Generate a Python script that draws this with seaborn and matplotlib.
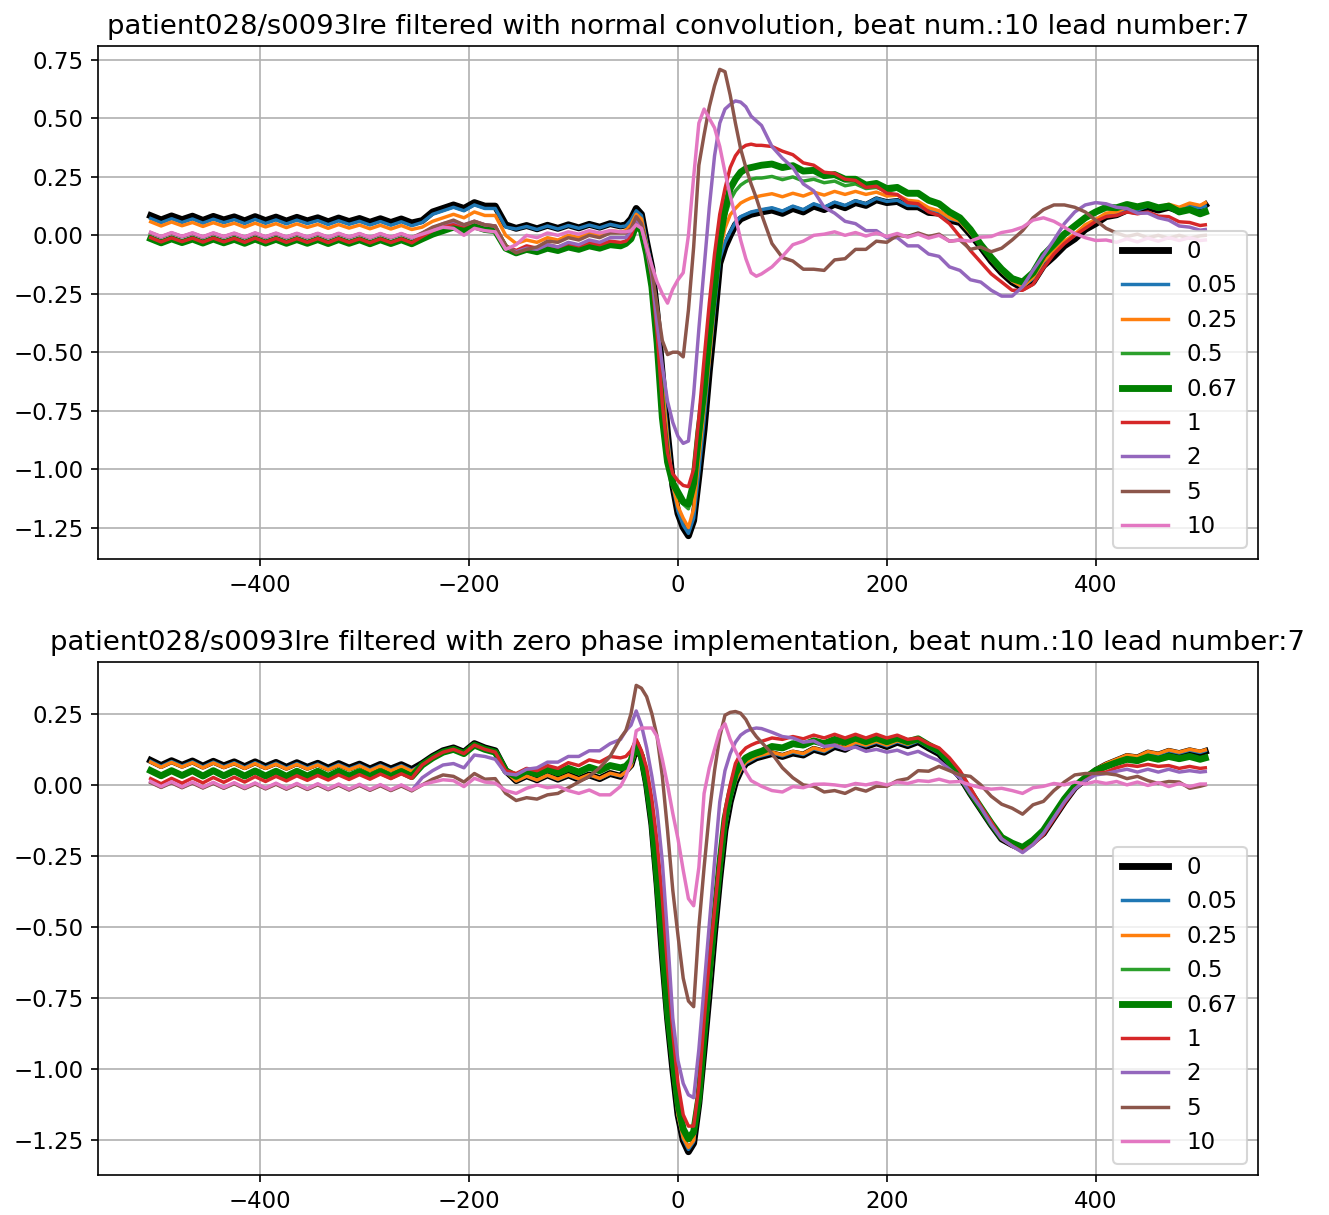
import numpy as np
import matplotlib
matplotlib.use("Agg")
import matplotlib.pyplot as plt
import seaborn as sns

plt.rcParams["font.size"] = 11

# %% sample positions (ms relative to R peak)
x = np.concatenate([np.arange(-505, -54, 10), np.arange(-50, 81, 5),
                    np.arange(90, 501, 10), [505]])

cutoffs = ["0", "0.05", "0.25", "0.5", "0.67", "1", "2", "5", "10"]

# %% top panel: normal convolution
top_0 = [0.084,0.066,0.083,0.067,0.082,0.064,0.081,0.066,0.079,0.062,0.080,0.063,0.078,0.061,0.077,0.062,0.075,0.058,0.074,0.059,0.072,0.056,0.071,0.055,0.070,0.053,
         0.063,0.100,0.115,0.130,0.115,0.140,0.125,0.125,0.045,0.030,0.042,0.028,0.043,0.030,0.045,0.032,0.047,0.035,0.050,0.040,
         0.045,0.070,0.115,0.090,-0.030,-0.140,-0.340,-0.600,-0.850,-1.070,-1.190,-1.250,-1.285,-1.220,-1.030,-0.830,-0.580,-0.360,-0.120,-0.050,0.000,0.045,0.070,0.080,0.090,0.095,0.100,
         0.108,0.094,0.115,0.100,0.125,0.110,0.133,0.118,0.140,0.128,0.152,0.140,0.145,0.122,0.122,0.098,0.095,0.065,0.055,0.005,-0.050,-0.110,
         -0.160,-0.200,-0.225,-0.200,-0.130,-0.090,-0.045,-0.015,0.025,0.050,0.080,0.088,0.108,0.102,0.120,0.108,0.120,0.105,0.122,0.115,0.130]
top_005 = [0.072,0.054,0.071,0.055,0.070,0.052,0.069,0.054,0.067,0.050,0.068,0.051,0.066,0.049,0.065,0.050,0.063,0.046,0.062,0.047,0.060,0.044,0.059,0.043,0.058,0.041,
           0.055,0.090,0.105,0.120,0.105,0.130,0.115,0.115,0.035,0.027,0.038,0.025,0.040,0.027,0.042,0.030,0.044,0.032,0.047,0.037,
           0.040,0.065,0.105,0.085,-0.030,-0.140,-0.350,-0.610,-0.860,-1.070,-1.180,-1.240,-1.275,-1.210,-1.010,-0.790,-0.540,-0.310,-0.100,-0.030,0.015,0.055,0.080,0.090,0.100,0.105,0.110,
           0.118,0.104,0.125,0.110,0.135,0.120,0.142,0.128,0.148,0.135,0.158,0.145,0.150,0.128,0.127,0.103,0.100,0.070,0.060,0.010,-0.045,-0.105,
           -0.155,-0.195,-0.220,-0.185,-0.115,-0.075,-0.030,0.000,0.040,0.062,0.090,0.095,0.115,0.108,0.125,0.112,0.123,0.108,0.125,0.118,0.125]
top_025 = [0.058,0.040,0.057,0.041,0.055,0.038,0.054,0.039,0.052,0.035,0.052,0.036,0.050,0.033,0.049,0.034,0.047,0.030,0.046,0.031,0.044,0.028,0.043,0.027,0.042,0.025,
           0.035,0.060,0.075,0.090,0.075,0.100,0.085,0.085,0.000,-0.035,-0.020,-0.030,-0.010,-0.020,0.000,-0.010,0.010,0.000,0.020,0.015,
           0.020,0.045,0.090,0.070,-0.040,-0.150,-0.370,-0.640,-0.880,-1.070,-1.160,-1.210,-1.250,-1.170,-0.950,-0.740,-0.530,-0.280,-0.070,0.030,0.088,0.115,0.138,0.150,0.160,0.165,0.170,
           0.178,0.165,0.180,0.168,0.185,0.172,0.188,0.175,0.188,0.175,0.185,0.168,0.172,0.150,0.145,0.118,0.105,0.075,0.060,0.010,-0.045,-0.105,
           -0.155,-0.195,-0.220,-0.180,-0.110,-0.070,-0.025,0.005,0.045,0.068,0.095,0.100,0.120,0.115,0.132,0.120,0.133,0.120,0.138,0.128,0.140]
top_05 = [-0.008,-0.026,-0.009,-0.025,-0.010,-0.027,-0.010,-0.026,-0.011,-0.028,-0.010,-0.027,-0.011,-0.028,-0.012,-0.028,-0.012,-0.029,-0.012,-0.028,-0.013,-0.030,-0.013,-0.029,-0.013,-0.030,
          -0.010,0.015,0.030,0.045,0.030,0.050,0.035,0.030,-0.050,-0.070,-0.055,-0.065,-0.050,-0.060,-0.045,-0.055,-0.040,-0.050,-0.035,-0.040,
          -0.030,-0.010,0.050,0.030,-0.070,-0.200,-0.440,-0.740,-0.950,-1.060,-1.120,-1.150,-1.170,-1.080,-0.900,-0.700,-0.460,-0.250,-0.050,0.080,0.150,0.190,0.215,0.230,0.240,0.245,0.245,
          0.252,0.238,0.250,0.232,0.240,0.225,0.232,0.212,0.220,0.200,0.205,0.188,0.198,0.175,0.175,0.145,0.130,0.100,0.075,0.025,-0.040,-0.100,
          -0.140,-0.180,-0.195,-0.160,-0.090,-0.045,0.000,0.035,0.070,0.095,0.115,0.115,0.128,0.120,0.130,0.118,0.125,0.110,0.115,0.100,0.110]
top_067 = [-0.014,-0.032,-0.015,-0.031,-0.016,-0.033,-0.016,-0.032,-0.017,-0.034,-0.016,-0.033,-0.017,-0.034,-0.018,-0.034,-0.018,-0.035,-0.018,-0.034,-0.019,-0.036,-0.019,-0.035,-0.019,-0.036,
           -0.015,0.005,0.020,0.035,0.020,0.040,0.025,0.020,-0.055,-0.075,-0.060,-0.070,-0.055,-0.065,-0.050,-0.060,-0.045,-0.055,-0.040,-0.045,
           -0.035,-0.015,0.045,0.020,-0.080,-0.220,-0.460,-0.780,-0.970,-1.060,-1.100,-1.140,-1.150,-1.060,-0.840,-0.660,-0.420,-0.220,-0.020,0.110,0.200,0.240,0.270,0.285,0.290,0.295,0.300,
           0.305,0.290,0.298,0.275,0.278,0.255,0.260,0.240,0.240,0.215,0.222,0.200,0.205,0.180,0.180,0.150,0.135,0.100,0.075,0.025,-0.040,-0.095,
           -0.145,-0.185,-0.200,-0.160,-0.085,-0.040,0.005,0.040,0.075,0.100,0.120,0.118,0.132,0.122,0.132,0.118,0.125,0.100,0.110,0.092,0.100]
top_1 = [-0.010,-0.028,-0.011,-0.027,-0.012,-0.029,-0.012,-0.028,-0.013,-0.030,-0.012,-0.029,-0.013,-0.030,-0.014,-0.030,-0.014,-0.031,-0.014,-0.030,-0.015,-0.032,-0.015,-0.031,-0.015,-0.032,
         -0.005,0.020,0.040,0.050,0.040,0.060,0.045,0.040,-0.045,-0.065,-0.045,-0.055,-0.040,-0.050,-0.035,-0.045,-0.030,-0.040,-0.025,-0.030,
         -0.025,0.000,0.060,0.040,-0.060,-0.180,-0.420,-0.720,-0.930,-1.020,-1.050,-1.070,-1.075,-1.000,-0.780,-0.530,-0.290,-0.080,0.090,0.200,0.290,0.340,0.370,0.385,0.390,0.385,0.385,
         0.380,0.360,0.345,0.310,0.300,0.270,0.265,0.240,0.235,0.205,0.210,0.180,0.175,0.140,0.135,0.100,0.085,0.050,-0.005,-0.065,-0.115,-0.165,
         -0.200,-0.235,-0.235,-0.210,-0.140,-0.080,-0.035,0.000,0.030,0.060,0.080,0.085,0.100,0.092,0.100,0.082,0.080,0.058,0.055,0.042,0.045]
top_2 = [0.010,-0.008,0.009,-0.007,0.008,-0.009,0.008,-0.008,0.007,-0.010,0.008,-0.009,0.007,-0.010,0.006,-0.010,0.006,-0.011,0.006,-0.010,0.005,-0.012,0.005,-0.011,0.005,-0.012,
         0.010,0.030,0.050,0.060,0.045,0.060,0.045,0.040,-0.050,-0.070,-0.055,-0.060,-0.040,-0.050,-0.030,-0.040,-0.020,-0.030,-0.010,-0.010,
         -0.010,0.020,0.070,0.040,-0.060,-0.170,-0.380,-0.560,-0.710,-0.800,-0.860,-0.890,-0.880,-0.680,-0.400,-0.140,0.120,0.340,0.480,0.540,0.560,0.575,0.570,0.550,0.510,0.490,0.470,
         0.380,0.330,0.290,0.220,0.190,0.120,0.095,0.060,0.050,0.020,0.020,-0.010,-0.010,-0.045,-0.045,-0.080,-0.090,-0.135,-0.150,-0.190,-0.200,-0.235,
         -0.260,-0.260,-0.220,-0.150,-0.085,-0.020,0.050,0.100,0.130,0.140,0.135,0.120,0.115,0.095,0.095,0.075,0.065,0.040,0.035,0.022,0.025]
top_5 = [0.011,-0.006,0.010,-0.005,0.009,-0.007,0.009,-0.006,0.008,-0.008,0.009,-0.007,0.008,-0.008,0.007,-0.008,0.007,-0.009,0.007,-0.008,0.006,-0.010,0.006,-0.009,0.006,-0.010,
         0.010,0.035,0.050,0.065,0.045,0.060,0.045,0.040,-0.045,-0.075,-0.060,-0.050,-0.025,-0.030,-0.010,-0.020,0.000,-0.010,0.010,0.010,
         0.010,0.030,0.080,0.050,-0.050,-0.150,-0.300,-0.450,-0.510,-0.500,-0.500,-0.520,-0.320,-0.050,0.300,0.430,0.550,0.640,0.710,0.700,0.600,0.480,0.370,0.290,0.220,0.160,0.090,
         -0.035,-0.095,-0.110,-0.145,-0.145,-0.150,-0.105,-0.100,-0.060,-0.060,-0.025,-0.030,0.000,-0.005,0.010,-0.005,0.005,-0.025,-0.020,-0.060,-0.050,-0.070,
         -0.055,-0.020,0.020,0.075,0.110,0.130,0.130,0.120,0.100,0.065,0.030,0.010,-0.005,0.005,-0.010,0.000,-0.012,0.000,-0.012,-0.002,0.000]
top_10 = [0.013,-0.005,0.012,-0.004,0.011,-0.006,0.011,-0.005,0.010,-0.007,0.011,-0.006,0.010,-0.007,0.009,-0.007,0.009,-0.008,0.009,-0.007,0.008,-0.009,0.008,-0.008,0.008,-0.009,
          0.005,0.020,0.035,0.030,0.000,0.030,0.020,0.015,-0.060,-0.040,0.000,-0.010,0.010,0.000,0.015,0.005,0.020,0.010,0.020,0.015,
          0.015,0.020,0.045,0.030,-0.050,-0.130,-0.200,-0.250,-0.290,-0.230,-0.190,-0.160,0.000,0.250,0.480,0.540,0.500,0.460,0.380,0.270,0.170,0.080,-0.020,-0.100,-0.160,-0.175,-0.165,
          -0.135,-0.090,-0.040,-0.025,0.000,0.005,0.015,0.000,0.012,-0.003,0.010,-0.005,0.008,-0.008,0.005,-0.012,0.000,-0.025,-0.020,-0.025,-0.008,-0.005,
          0.012,0.020,0.035,0.065,0.075,0.060,0.035,0.008,-0.010,-0.022,-0.020,-0.030,-0.015,-0.028,-0.012,-0.025,-0.010,-0.022,-0.010,-0.022,-0.020]

# %% bottom panel: zero phase
bot_0 = [0.086,0.068,0.085,0.069,0.084,0.066,0.083,0.067,0.081,0.064,0.081,0.064,0.079,0.062,0.078,0.062,0.076,0.059,0.075,0.059,0.073,0.056,0.072,0.056,0.071,0.054,
         0.075,0.100,0.120,0.130,0.115,0.145,0.130,0.120,0.050,0.015,0.032,0.018,0.035,0.020,0.035,0.020,0.035,0.022,0.040,0.030,
         0.050,0.070,0.130,0.100,0.000,-0.140,-0.350,-0.600,-0.820,-1.000,-1.160,-1.250,-1.290,-1.260,-1.120,-0.930,-0.730,-0.520,-0.330,-0.160,-0.060,0.010,0.050,0.075,0.085,0.095,0.100,
         0.110,0.100,0.112,0.105,0.125,0.115,0.135,0.125,0.145,0.135,0.148,0.135,0.150,0.138,0.152,0.130,0.110,0.070,0.030,-0.030,-0.085,-0.140,
         -0.190,-0.210,-0.225,-0.200,-0.170,-0.115,-0.060,-0.010,0.020,0.050,0.070,0.085,0.100,0.095,0.112,0.105,0.118,0.110,0.120,0.112,0.118]
bot_005 = [0.083,0.065,0.082,0.066,0.081,0.063,0.080,0.064,0.078,0.061,0.078,0.061,0.076,0.059,0.075,0.059,0.073,0.056,0.072,0.056,0.070,0.053,0.069,0.053,0.068,0.051,
           0.072,0.097,0.117,0.127,0.112,0.142,0.127,0.117,0.048,0.014,0.031,0.017,0.034,0.019,0.034,0.020,0.035,0.022,0.040,0.031,
           0.048,0.068,0.128,0.098,0.000,-0.138,-0.350,-0.600,-0.820,-1.000,-1.160,-1.245,-1.282,-1.255,-1.110,-0.925,-0.725,-0.515,-0.325,-0.155,-0.055,0.012,0.052,0.077,0.087,0.097,0.102,
           0.112,0.102,0.115,0.107,0.127,0.117,0.137,0.127,0.147,0.137,0.150,0.137,0.152,0.140,0.154,0.132,0.112,0.072,0.032,-0.028,-0.083,-0.138,
           -0.188,-0.208,-0.223,-0.198,-0.168,-0.113,-0.058,-0.008,0.022,0.052,0.072,0.087,0.102,0.097,0.114,0.107,0.120,0.112,0.122,0.114,0.120]
bot_025 = [0.080,0.062,0.079,0.063,0.078,0.060,0.077,0.061,0.075,0.058,0.075,0.058,0.073,0.056,0.072,0.056,0.070,0.053,0.069,0.053,0.067,0.050,0.066,0.050,0.065,0.048,
           0.070,0.095,0.115,0.125,0.110,0.140,0.125,0.115,0.047,0.014,0.031,0.017,0.034,0.020,0.035,0.021,0.036,0.023,0.041,0.032,
           0.045,0.065,0.125,0.095,0.000,-0.135,-0.350,-0.600,-0.820,-1.000,-1.160,-1.240,-1.275,-1.250,-1.100,-0.920,-0.720,-0.510,-0.320,-0.150,-0.050,0.015,0.055,0.080,0.090,0.100,0.105,
           0.115,0.105,0.118,0.110,0.130,0.120,0.140,0.130,0.150,0.140,0.153,0.140,0.155,0.143,0.157,0.135,0.115,0.075,0.035,-0.025,-0.080,-0.135,
           -0.185,-0.205,-0.220,-0.195,-0.165,-0.110,-0.055,-0.005,0.025,0.055,0.075,0.090,0.105,0.100,0.117,0.110,0.123,0.115,0.125,0.118,0.123]
bot_05 = [0.053,0.035,0.053,0.036,0.053,0.034,0.053,0.035,0.052,0.034,0.052,0.034,0.051,0.033,0.051,0.034,0.051,0.033,0.051,0.034,0.050,0.033,0.050,0.033,0.050,0.032,
          0.067,0.092,0.112,0.122,0.107,0.137,0.122,0.112,0.047,0.025,0.045,0.033,0.050,0.037,0.053,0.040,0.057,0.045,0.063,0.055,
          0.060,0.080,0.140,0.100,0.005,-0.125,-0.335,-0.570,-0.805,-0.970,-1.130,-1.210,-1.235,-1.215,-1.095,-0.890,-0.670,-0.480,-0.290,-0.130,-0.035,0.035,0.070,0.090,0.100,0.108,0.114,
          0.130,0.125,0.140,0.135,0.150,0.140,0.155,0.145,0.160,0.147,0.160,0.147,0.160,0.147,0.157,0.135,0.117,0.078,0.034,-0.025,-0.080,-0.135,
          -0.185,-0.205,-0.220,-0.195,-0.162,-0.107,-0.052,-0.006,0.024,0.050,0.066,0.080,0.092,0.087,0.100,0.092,0.103,0.095,0.103,0.093,0.098]
bot_067 = [0.050,0.032,0.050,0.033,0.050,0.031,0.050,0.032,0.049,0.031,0.049,0.031,0.048,0.030,0.048,0.031,0.048,0.030,0.048,0.031,0.047,0.030,0.047,0.030,0.047,0.029,
           0.070,0.095,0.115,0.125,0.110,0.140,0.125,0.115,0.050,0.030,0.050,0.038,0.055,0.042,0.058,0.045,0.062,0.050,0.068,0.060,
           0.065,0.085,0.145,0.100,0.010,-0.120,-0.330,-0.560,-0.800,-0.960,-1.120,-1.210,-1.245,-1.220,-1.100,-0.880,-0.660,-0.470,-0.280,-0.120,-0.030,0.040,0.075,0.095,0.105,0.112,0.118,
           0.135,0.130,0.145,0.140,0.155,0.145,0.160,0.150,0.165,0.152,0.165,0.152,0.165,0.152,0.162,0.140,0.120,0.080,0.035,-0.025,-0.080,-0.135,
           -0.185,-0.205,-0.220,-0.195,-0.160,-0.105,-0.050,-0.005,0.025,0.050,0.065,0.078,0.090,0.085,0.098,0.090,0.100,0.092,0.100,0.090,0.095]
bot_1 = [0.022,0.004,0.023,0.006,0.024,0.007,0.026,0.009,0.027,0.010,0.029,0.012,0.030,0.014,0.032,0.016,0.033,0.017,0.035,0.019,0.036,0.020,0.038,0.022,0.039,0.023,
         0.070,0.095,0.115,0.125,0.110,0.140,0.125,0.115,0.050,0.040,0.058,0.050,0.068,0.058,0.078,0.068,0.088,0.080,0.100,0.095,
         0.100,0.120,0.160,0.120,0.060,-0.050,-0.200,-0.400,-0.640,-0.870,-1.050,-1.160,-1.200,-1.200,-1.060,-0.830,-0.620,-0.440,-0.260,-0.090,0.000,0.075,0.110,0.130,0.140,0.148,0.153,
         0.165,0.160,0.170,0.162,0.175,0.165,0.178,0.165,0.178,0.165,0.178,0.165,0.175,0.160,0.165,0.145,0.130,0.095,0.050,-0.010,-0.075,-0.130,
         -0.190,-0.215,-0.235,-0.210,-0.175,-0.120,-0.065,-0.015,0.015,0.040,0.045,0.060,0.070,0.065,0.072,0.065,0.068,0.058,0.065,0.058,0.060]
bot_2 = [0.010,-0.008,0.009,-0.009,0.008,-0.010,0.007,-0.011,0.006,-0.012,0.005,-0.013,0.004,-0.014,0.003,-0.015,0.002,-0.016,0.001,-0.017,0.000,-0.018,-0.001,-0.019,-0.002,-0.020,
         0.025,0.050,0.070,0.075,0.060,0.105,0.100,0.090,0.040,0.035,0.055,0.060,0.080,0.080,0.100,0.100,0.120,0.120,0.145,0.160,
         0.190,0.210,0.260,0.210,0.130,0.030,-0.090,-0.270,-0.530,-0.820,-0.970,-1.050,-1.090,-1.100,-0.930,-0.710,-0.490,-0.270,-0.060,0.050,0.110,0.150,0.175,0.188,0.196,0.200,0.198,
         0.185,0.170,0.165,0.150,0.155,0.135,0.140,0.125,0.133,0.118,0.125,0.115,0.122,0.108,0.118,0.100,0.085,0.055,0.025,-0.030,-0.080,-0.140,
         -0.190,-0.215,-0.238,-0.210,-0.170,-0.115,-0.060,-0.015,0.015,0.035,0.040,0.048,0.055,0.045,0.055,0.045,0.055,0.045,0.050,0.045,0.047]
bot_5 = [0.008,-0.009,0.007,-0.010,0.006,-0.011,0.005,-0.012,0.004,-0.013,0.003,-0.014,0.002,-0.015,0.001,-0.016,0.000,-0.017,-0.001,-0.018,-0.002,-0.019,-0.003,-0.020,-0.004,-0.021,
         0.000,0.020,0.035,0.030,0.010,0.040,0.020,0.022,-0.030,-0.055,-0.045,-0.050,-0.035,-0.030,-0.010,0.010,0.030,0.060,0.100,0.165,
         0.190,0.250,0.350,0.340,0.310,0.250,0.170,0.030,-0.160,-0.370,-0.530,-0.680,-0.760,-0.780,-0.500,-0.290,-0.100,0.050,0.170,0.245,0.255,0.258,0.252,0.230,0.195,0.170,0.150,
         0.110,0.060,0.025,0.000,-0.005,-0.025,-0.020,-0.030,-0.012,-0.022,-0.005,-0.005,0.015,0.022,0.050,0.048,0.065,0.050,0.035,0.030,0.000,-0.040,
         -0.068,-0.082,-0.103,-0.070,-0.058,-0.020,0.010,0.035,0.040,0.040,0.040,0.035,0.022,0.030,0.015,0.005,0.012,0.010,-0.012,-0.005,0.000]
bot_10 = [0.012,-0.006,0.011,-0.007,0.010,-0.008,0.009,-0.009,0.008,-0.010,0.007,-0.011,0.006,-0.012,0.005,-0.013,0.004,-0.014,0.003,-0.015,0.002,-0.016,0.001,-0.017,0.000,-0.018,
          0.000,0.010,0.018,0.015,-0.006,0.023,0.010,0.006,-0.020,-0.030,-0.012,0.000,-0.010,-0.005,-0.020,-0.030,-0.018,-0.035,-0.035,-0.005,
          0.030,0.080,0.190,0.200,0.200,0.200,0.170,0.090,0.000,-0.100,-0.190,-0.300,-0.400,-0.425,-0.290,-0.030,0.060,0.125,0.190,0.215,0.160,0.120,0.085,0.045,0.015,0.005,-0.005,
          -0.020,-0.025,-0.006,-0.010,0.002,0.003,0.000,-0.005,0.005,0.000,0.008,0.000,0.010,0.005,0.015,0.012,0.020,0.010,0.012,0.000,-0.010,-0.015,
          -0.012,-0.020,-0.030,-0.010,-0.005,0.005,0.000,0.010,0.003,0.012,0.005,0.012,0.000,0.010,-0.002,0.008,-0.006,0.005,-0.006,0.003,0.003]

top_series = [top_0, top_005, top_025, top_05, top_067, top_1, top_2, top_5, top_10]
bot_series = [bot_0, bot_005, bot_025, bot_05, bot_067, bot_1, bot_2, bot_5, bot_10]

colors = ["black", "#1f77b4", "#ff7f0e", "#2ca02c", "green",
          "#d62728", "#9467bd", "#8c564b", "#e377c2"]
widths = [3.3, 1.65, 1.65, 1.65, 3.3, 1.65, 1.65, 1.65, 1.65]

titles = [
    "patient028/s0093lre filtered with normal convolution, beat num.:10 lead number:7",
    "patient028/s0093lre filtered with zero phase implementation, beat num.:10 lead number:7",
]

# %% plot
fig, axes = plt.subplots(2, 1, figsize=(8.86, 8.1), dpi=150)

for ax, series, title in zip(axes, [top_series, bot_series], titles):
    for lab, ys, c, w in zip(cutoffs, series, colors, widths):
        sns.lineplot(x=x, y=ys, ax=ax, color=c, linewidth=w, label=lab)
    ax.grid(True)
    ax.set_title(title, fontsize=13.2)
    ax.set_xlabel("")
    ax.set_ylabel("")
    ax.legend(loc="lower right")

plt.subplots_adjust(left=0.0737, right=0.9466, top=0.9621, bottom=0.0329, hspace=0.2008)
fig.savefig("out.png", dpi=150)
